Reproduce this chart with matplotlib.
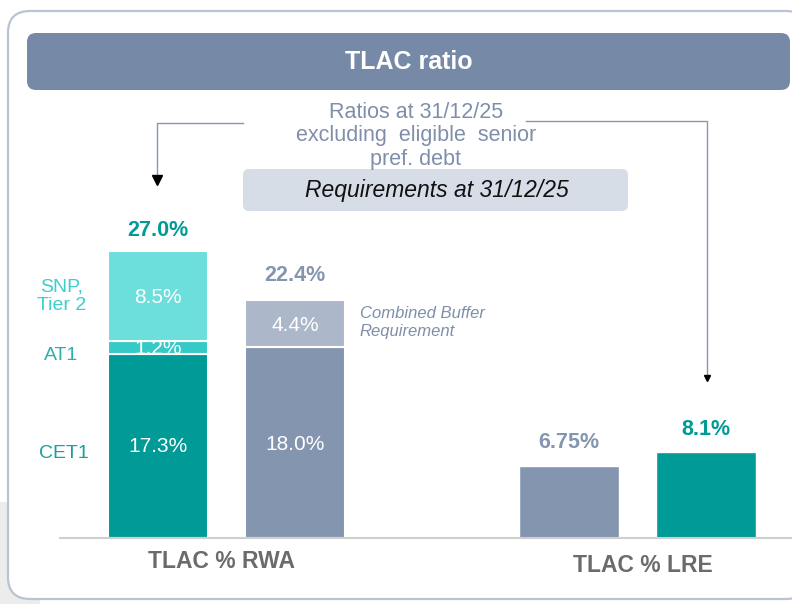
import matplotlib
matplotlib.use("Agg")
import matplotlib.pyplot as plt
from matplotlib.patches import FancyBboxPatch, Rectangle

plt.rcParams['font.family'] = ['Liberation Sans', 'DejaVu Sans']

# ---- data ----
categories = ["TLAC % RWA", "TLAC % LRE"]
rwa_actual_segments = ["CET1", "AT1", "SNP,\nTier 2"]
rwa_actual_values = [17.3, 1.2, 8.5]
rwa_actual_total = 27.0
rwa_req_segments = ["Base", "Combined Buffer\nRequirement"]
rwa_req_values = [18.0, 4.4]
rwa_req_total = 22.4
lre_req_value = 6.75
lre_actual_value = 8.1
title = "TLAC ratio"
subtitle = "Ratios at 31/12/25\nexcluding  eligible  senior\npref. debt"
req_label = "Requirements at 31/12/25"

# ---- colours ----
TEAL = "#009a97"
AT1C = "#35c9c7"
SNPC = "#6cdedb"
GREY = "#8496af"
LGREY = "#adb7ca"
BANNER = "#768aa8"
SUBC = "#7f8fa9"
DARK = "#6b6b6b"

W, H = 792, 604
fig = plt.figure(figsize=(W / 100, H / 100), dpi=100)
fig.patch.set_facecolor("white")

bg = fig.add_axes([0, 0, 1, 1], zorder=0)
bg.set_xlim(0, W)
bg.set_ylim(H, 0)
bg.axis("off")

# grey panel behind bottom-left
bg.add_patch(Rectangle((0, 502), 40, 102, facecolor="#ececec", edgecolor="none", zorder=0))
# outer rounded frame
bg.add_patch(FancyBboxPatch((8, 11), 800, 588, boxstyle="round,pad=0,rounding_size=22",
                            facecolor="white", edgecolor="#b9c3d3", lw=1.6, zorder=1))
# title banner
bg.add_patch(FancyBboxPatch((27, 33), 763, 57, boxstyle="round,pad=0,rounding_size=9",
                            facecolor=BANNER, edgecolor="none", zorder=2))
bg.text(409, 62, title, color="white", fontsize=18, fontweight="bold",
        ha="center", va="center", zorder=3)

# subtitle
bg.text(416, 136, subtitle, color=SUBC, fontsize=15.5, ha="center", va="center",
        linespacing=1.18, zorder=3)

# connectors
lc = "#8797ae"
bg.plot([243, 157, 157], [123, 123, 176], color=lc, lw=1.0, zorder=3)
bg.plot([157], [180], marker="v", color="black", markersize=7, zorder=4)
bg.plot([526, 707, 707], [121, 121, 374], color=lc, lw=1.0, zorder=3)
bg.plot([707], [378], marker="v", color="black", markersize=5, zorder=4)

# requirements box
bg.add_patch(FancyBboxPatch((243, 169), 385, 42, boxstyle="round,pad=0,rounding_size=6",
                            facecolor="#d6dde7", edgecolor="none", zorder=2))
bg.text(437, 191, req_label, color="#111111", fontsize=16.5, style="italic",
        ha="center", va="center", zorder=3)

# ---- bar axes ----
base_px = 538
px_per_pct = 10.63
ymax = 30
ax_bottom = (H - base_px) / H
ax_height = ymax * px_per_pct / H
ax = fig.add_axes([60 / W, ax_bottom, (W - 60) / W, ax_height], zorder=1)
ax.patch.set_alpha(0)
xs = [0, 1, 3, 4]
ax.set_xlim(-0.715, 4.628)
ax.set_ylim(0, ymax)
for s in ["top", "right", "left"]:
    ax.spines[s].set_visible(False)
ax.spines["bottom"].set_color("#cfcfcf")
ax.spines["bottom"].set_linewidth(1.5)
ax.set_xticks([])
ax.set_yticks([])

bw = 0.73
# actual RWA stack
cols_actual = [TEAL, AT1C, SNPC]
bottom = 0
patches = []
for v, c in zip(rwa_actual_values, cols_actual):
    b = ax.bar(xs[0], v, bw, bottom=bottom, color=c, edgecolor="white", linewidth=1.5)
    patches.append(b[0])
    bottom += v

# requirement RWA stack
cols_req = [GREY, LGREY]
bottom = 0
for v, c in zip(rwa_req_values, cols_req):
    ax.bar(xs[1], v, bw, bottom=bottom, color=c, edgecolor="white", linewidth=1.5)
    bottom += v

# LRE bars
ax.bar(xs[2], lre_req_value, bw, color=GREY, edgecolor="white", linewidth=1.0)
ax.bar(xs[3], lre_actual_value, bw, color=TEAL, edgecolor="white", linewidth=1.0)

fs_in = 15
# inner labels
ax.text(xs[0], rwa_actual_values[0] * 0.495, f"{rwa_actual_values[0]:.1f}%", color="white",
        fontsize=fs_in, ha="center", va="center")
t = ax.text(xs[0], rwa_actual_values[0] + rwa_actual_values[1] * 0.4, f"{rwa_actual_values[1]:.1f}%",
            color="white", fontsize=fs_in, ha="center", va="center")
t.set_clip_path(patches[1])
ax.text(xs[0], rwa_actual_values[0] + rwa_actual_values[1] + rwa_actual_values[2] * 0.49,
        f"{rwa_actual_values[2]:.1f}%", color="white", fontsize=fs_in, ha="center", va="center")
ax.text(xs[1], rwa_req_values[0] * 0.49, f"{rwa_req_values[0]:.1f}%", color="white",
        fontsize=fs_in, ha="center", va="center")
ax.text(xs[1], rwa_req_values[0] + rwa_req_values[1] * 0.46, f"{rwa_req_values[1]:.1f}%",
        color="white", fontsize=fs_in, ha="center", va="center")

# totals
fs_tot = 15.5
ax.text(xs[0], rwa_actual_total + 1.97, f"{rwa_actual_total:.1f}%", color=TEAL, fontsize=fs_tot,
        fontweight="bold", ha="center", va="center")
ax.text(xs[1], rwa_req_total + 2.34, f"{rwa_req_total:.1f}%", color=GREY, fontsize=fs_tot,
        fontweight="bold", ha="center", va="center")
ax.text(xs[2], lre_req_value + 2.28, f"{lre_req_value:.2f}%", color=GREY, fontsize=fs_tot,
        fontweight="bold", ha="center", va="center")
ax.text(xs[3], lre_actual_value + 2.06, f"{lre_actual_value:.1f}%", color=TEAL, fontsize=fs_tot,
        fontweight="bold", ha="center", va="center")

# left segment labels
fs_seg = 14
ax.text(-0.686, rwa_actual_values[0] * 0.462, "CET1", color="#17a09d", fontsize=fs_seg,
        ha="center", va="center", clip_on=False)
ax.text(-0.708, rwa_actual_values[0] - 0.1, "AT1", color="#2bb0ad",
        fontsize=fs_seg, ha="center", va="center", clip_on=False)
ax.text(-0.70, rwa_actual_values[0] + rwa_actual_values[1] + rwa_actual_values[2] * 0.50,
        "SNP,\nTier 2", color="#3ccfcb", fontsize=fs_seg, ha="center", va="center",
        linespacing=1.15, clip_on=False)

# combined buffer note
ax.text(xs[1] + 0.474, rwa_req_values[0] + rwa_req_values[1] * 0.52, rwa_req_segments[1],
        color=SUBC, fontsize=12, style="italic", ha="left", va="center", linespacing=1.25)

# category labels
bg.text(222, 562, categories[0], color=DARK, fontsize=16.5, fontweight="bold",
        ha="center", va="center", zorder=3)
bg.text(643, 565, categories[1], color=DARK, fontsize=16.5, fontweight="bold",
        ha="center", va="center", zorder=3)

fig.savefig("out.png", dpi=100)
